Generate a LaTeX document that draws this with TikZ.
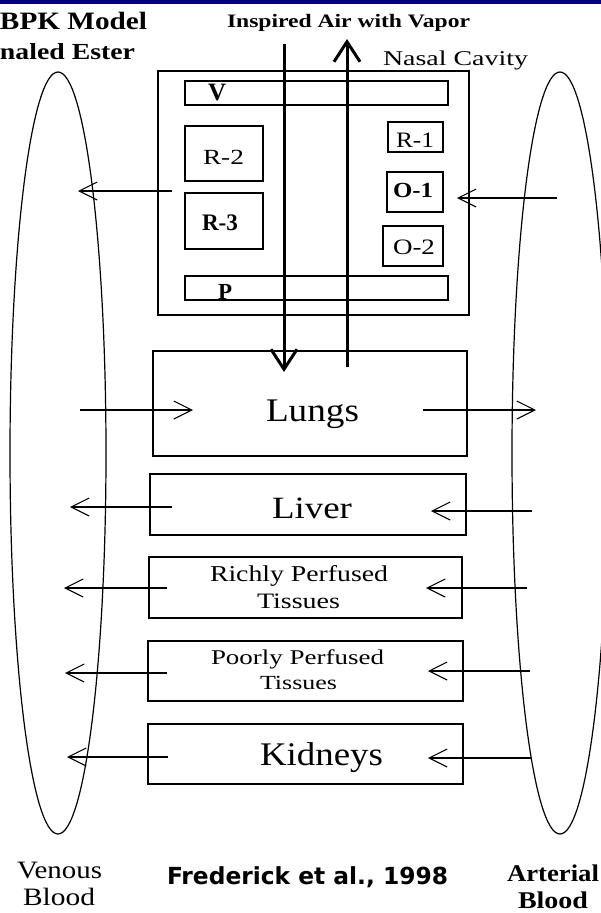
\documentclass[tikz,border=0pt]{standalone}
\usepackage{fontspec}
\setmainfont{Liberation Serif}
\newfontfamily\fredfont{DejaVu Sans}
\usetikzlibrary{arrows.meta,shapes.geometric}
\definecolor{bandblue}{RGB}{0,0,128}
\newcommand{\fitw}[2]{\resizebox{#1}{\height}{#2}}
\newcommand{\fsz}[1]{\fontsize{#1}{#1}\selectfont}
\begin{document}
\begin{tikzpicture}[x=1pt,y=-1pt,
  box/.style={draw, line width=1.2pt, inner sep=0pt, outer sep=0pt, anchor=north west},
  lbl/.style={anchor=base west, inner sep=0pt, outer sep=0pt},
  flow/.style={line width=1.1pt, -{Straight Barb[length=18pt,width=18pt]}},
  air/.style={line width=3pt, -{Straight Barb[length=20pt,width=26pt]}},
  blood/.style={draw, ellipse, line width=1.2pt, inner sep=0pt}]
\useasboundingbox (0,0) rectangle (601,913);
\fill[bandblue] (0,0) rectangle (601,3.5);

% blood pools
\node[blood, minimum width=96pt, minimum height=762pt] (venous) at (58,453) {};
\node[blood, minimum width=96pt, minimum height=762pt] (arterial) at (560,453) {};

% nasal cavity
\node[box, minimum width=311pt, minimum height=244pt] (nasal) at (158,71) {};
\node[box, minimum width=263pt, minimum height=24pt] (vbar) at (185,81) {};
\node[box, minimum width=263pt, minimum height=24pt] (pbar) at (185,276) {};
\node[box, minimum width=78pt, minimum height=55pt] (r2) at (185,126) {};
\node[box, minimum width=78pt, minimum height=56pt] (r3) at (185,193) {};
\node[box, minimum width=55pt, minimum height=30pt] (r1) at (388,122) {};
\node[box, minimum width=56pt, minimum height=40pt] (o1) at (387,172) {};
\node[box, minimum width=60pt, minimum height=40pt] (o2) at (383,226) {};

% organs
\node[box, minimum width=314pt, minimum height=105pt] (lungs) at (153,351) {};
\node[box, minimum width=316pt, minimum height=61pt] (liver) at (150,474) {};
\node[box, minimum width=313pt, minimum height=61pt] (richly) at (149,557) {};
\node[box, minimum width=315pt, minimum height=60pt] (poorly) at (148,641) {};
\node[box, minimum width=315pt, minimum height=60pt] (kidneys) at (148,724) {};

% labels
\node[lbl] (title1) at (0,29.3) {\fitw{147pt}{\fsz{25pt}\bfseries BPK Model}};
\node[lbl] (title2) at (0,59) {\fitw{135pt}{\fsz{23pt}\bfseries naled Ester}};
\node[lbl] (inspired) at (227,27.5) {\fitw{243pt}{\fsz{19pt}\bfseries Inspired Air with Vapor}};
\node[lbl] (nasallbl) at (383,65) {\fitw{145pt}{\fsz{21pt}Nasal Cavity}};
\node[lbl] (vlbl) at (208,100) {\fsz{25pt}\bfseries V};
\node[lbl] (plbl) at (218,299) {\fsz{23pt}\bfseries P};
\node[lbl] (r2lbl) at (203,164.3) {\fitw{41pt}{\fsz{21.6pt}R-2}};
\node[lbl] (r3lbl) at (202,230) {\fitw{36pt}{\fsz{23.7pt}\bfseries R-3}};
\node[lbl] (r1lbl) at (396,147.7) {\fitw{38pt}{\fsz{22pt}R-1}};
\node[lbl] (o1lbl) at (393,197) {\fitw{40pt}{\fsz{21.5pt}\bfseries O-1}};
\node[lbl] (o2lbl) at (393,254) {\fitw{42pt}{\fsz{22pt}O-2}};
\node[lbl] (lungslbl) at (266,421.7) {\fitw{93pt}{\fsz{33pt}Lungs}};
\node[lbl] (liverlbl) at (272,518) {\fitw{80pt}{\fsz{31pt}Liver}};
\node[lbl] (richlyA) at (210,581.7) {\fitw{178pt}{\fsz{22.7pt}Richly Perfused}};
\node[lbl] (richlyB) at (257,608) {\fitw{83pt}{\fsz{22pt}Tissues}};
\node[lbl] (poorlyA) at (211,664) {\fitw{173pt}{\fsz{21pt}Poorly Perfused}};
\node[lbl] (poorlyB) at (260,689) {\fitw{77pt}{\fsz{20pt}Tissues}};
\node[lbl] (kidneyslbl) at (260,765) {\fitw{123pt}{\fsz{33pt}Kidneys}};
\node[lbl] (venA) at (17,878) {\fitw{85pt}{\fsz{25pt}Venous}};
\node[lbl] (venB) at (23,905) {\fitw{72pt}{\fsz{25pt}Blood}};
\node[lbl] (artA) at (507,881) {\fitw{92pt}{\fsz{24pt}\bfseries Arterial}};
\node[lbl] (artB) at (518,908.5) {\fitw{70pt}{\fsz{24pt}\bfseries Blood}};
\node[lbl] (cite) at (167,884) {\fitw{281pt}{\fsz{23.5pt}\fredfont\bfseries Frederick et al., 1998}};

% flow end points
\coordinate (nasalL) at (172,191);  \coordinate (venN) at (78,191);
\coordinate (artN) at (557,198);    \coordinate (nasalR) at (457,198);
\coordinate (venLu) at (80,410);    \coordinate (lungsL) at (193,410);
\coordinate (lungsR) at (423,410);  \coordinate (artLu) at (536,410);
\coordinate (liverL) at (172,507);  \coordinate (venLi) at (70,507);
\coordinate (artLi) at (532,511);   \coordinate (liverR) at (431,511);
\coordinate (richlyL) at (167,588); \coordinate (venRi) at (64,588);
\coordinate (artRi) at (527,588);   \coordinate (richlyR) at (426,588);
\coordinate (poorlyL) at (167,673); \coordinate (venPo) at (65,673);
\coordinate (artPo) at (530,671);   \coordinate (poorlyR) at (428,671);
\coordinate (kidneysL) at (168,757);\coordinate (venKi) at (67,757);
\coordinate (artKi) at (531,758);   \coordinate (kidneysR) at (428,758);
\coordinate (airInTop) at (284,44); \coordinate (airInEnd) at (284,372);
\coordinate (airOutStart) at (347,367); \coordinate (airOutTop) at (347,39);

\draw[flow] (nasalL) -- (venN);
\draw[flow] (artN) -- (nasalR);
\draw[flow] (venLu) -- (lungsL);
\draw[flow] (lungsR) -- (artLu);
\draw[flow] (liverL) -- (venLi);
\draw[flow] (artLi) -- (liverR);
\draw[flow] (richlyL) -- (venRi);
\draw[flow] (artRi) -- (richlyR);
\draw[flow] (poorlyL) -- (venPo);
\draw[flow] (artPo) -- (poorlyR);
\draw[flow] (kidneysL) -- (venKi);
\draw[flow] (artKi) -- (kidneysR);

\draw[air] (airInTop) -- (airInEnd);
\draw[air] (airOutStart) -- (airOutTop);
\end{tikzpicture}
\end{document}
